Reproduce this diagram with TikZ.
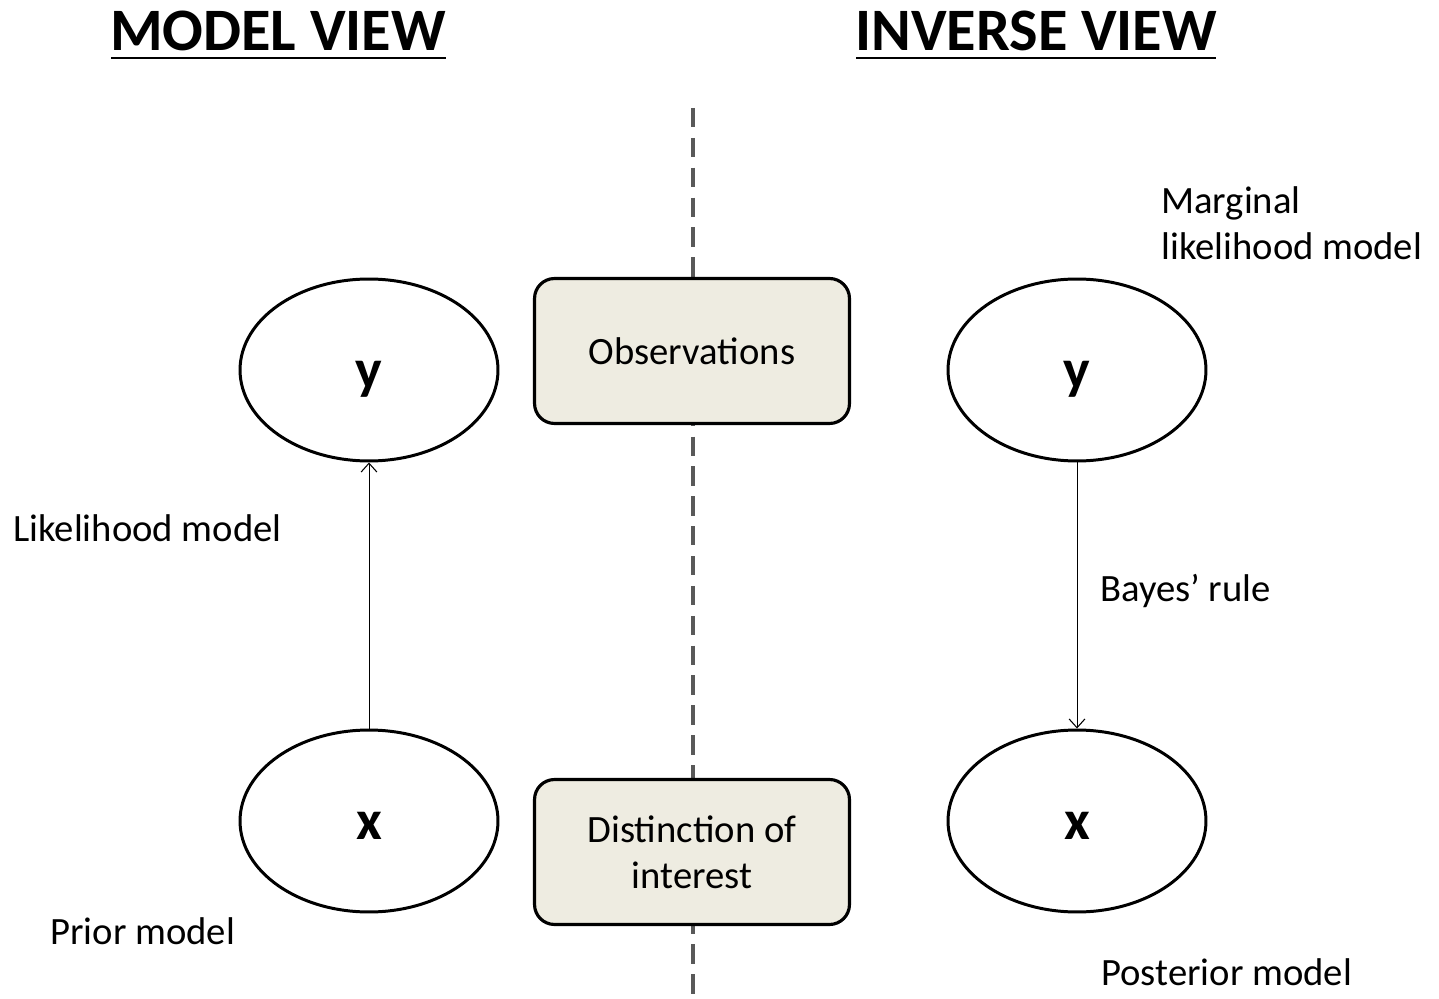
\documentclass[tikz,border=0pt]{standalone}
\usepackage{fontspec}
\setmainfont{Carlito}
\usetikzlibrary{shapes.geometric,arrows.meta}
\definecolor{boxfill}{HTML}{EEECE1}
\definecolor{divgray}{HTML}{595959}
\tikzset{var/.style = {draw, fill=white, line width=1.7pt, ellipse, minimum width=5.16cm, minimum height=3.64cm, inner sep=0pt, text height=20.6pt, text depth=0pt, font=\fontsize{32}{36}\selectfont\bfseries},
         block/.style = {draw, fill=boxfill, line width=1.8pt, rectangle, rounded corners=0.4cm, minimum width=6.3cm, minimum height=2.9cm, align=center, font=\fontsize{22}{26}\selectfont},
         lbl/.style = {anchor=west, inner sep=0pt, align=left, font=\fontsize{22}{26}\selectfont},
         head/.style = {inner sep=0pt, font=\fontsize{34.3}{40}\selectfont\bfseries},
         link/.style = {-{Straight Barb[length=5pt,width=9pt,line width=0.6pt]}, line width=0.5pt}}

\begin{document}
\begin{tikzpicture}[x=0.02cm,y=-0.02cm]
    \useasboundingbox (0,0) rectangle (1439,999);
    % divider
    \draw[divgray, line width=2.3pt, dash pattern=on 11pt off 6pt](693,108)--(693,999);
    % titles
    \node[head](mv)at(278,31){MODEL VIEW};
    \node[head](iv)at(1036,31){INVERSE VIEW};
    \draw[line width=1.6pt](111,58)--(446,58);
    \draw[line width=1.6pt](856,58)--(1216,58);
    % boxes
    \node[block](obs)at(692,351){Observations};
    \node[block](dist)at(692,852){Distinction of\\interest};
    % model view
    \node[var](my)at(369,370){y};
    \node[var](mx)at(369,821){x};
    \draw[link](mx.north)--(my.south);
    \node[lbl](lik)at(13,528){Likelihood model};
    \node[lbl](pri)at(50,931){Prior model};
    % inverse view
    \node[var](iy)at(1077,370){y};
    \node[var](ix)at(1077,821){x};
    \draw[link](iy.south)--(ix.north);
    \node[lbl](marg)at(1161,223){Marginal\\likelihood model};
    \node[lbl](bay)at(1100,591){Bayes’ rule};
    \node[lbl](post)at(1101,972){Posterior model};
\end{tikzpicture}
\end{document}
